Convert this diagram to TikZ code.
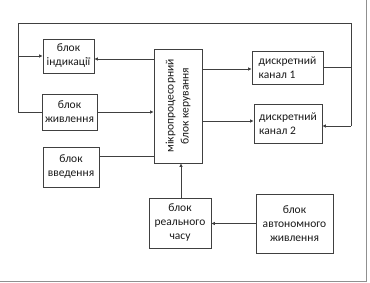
\documentclass[tikz,border=0pt]{standalone}
\usepackage{fontspec}
\setmainfont{Carlito}
\usetikzlibrary{arrows.meta,calc}
\definecolor{ln}{HTML}{404040}
\definecolor{fr}{HTML}{909090}
\tikzset{
  txt/.style={inner sep=1pt,align=center,font=\fontsize{11.5}{14}\selectfont,text=black!90},
  blk/.style={txt,draw=ln,line width=0.8pt},
  conn/.style={draw=ln,line width=0.8pt},
  arr/.style={conn,-{Latex[length=3.5pt,width=3.5pt]}}
}
\begin{document}
\begin{tikzpicture}[x=1pt,y=-1pt]
\useasboundingbox (0,0) rectangle (370,283);
\draw[fr,line width=0.8pt] (366,0) -- (366,281.5) -- (0,281.5);
\node[blk,minimum width=51pt,minimum height=34pt] (ind) at (68.5,56) {блок\\індикації};
\node[blk,minimum width=55pt,minimum height=36pt] (ziv) at (69.5,112) {блок\\живлення};
\node[blk,minimum width=48pt,minimum height=114pt] (mcu) at (178,106) {};
\node[txt,rotate=90,font=\fontsize{11.5}{15}\selectfont] (mcut) at (mcu.center) {мікропроцесорний\\блок керування};
\node[blk,minimum width=71pt,minimum height=33pt,align=left] (ch1) at (287.5,67.5) {дискретний\\канал 1};
\node[blk,minimum width=68pt,minimum height=39pt,align=left] (ch2) at (288,123.5) {дискретний\\канал 2};
\node[blk,minimum width=56pt,minimum height=40pt] (vv) at (71,167) {блок\\введення};
\node[blk,minimum width=62pt,minimum height=50pt] (rt) at (180,223) {блок\\реального\\часу};
\node[blk,minimum width=77pt,minimum height=59pt] (avt) at (294.5,223.5) {блок\\автономного\\живлення};
\coordinate (lt) at (18,23);
\coordinate (rtop) at (351,23);
\coordinate (c2) at (351,126);
\coordinate (y59) at (0,59);
\coordinate (y69) at (0,69);
\coordinate (y121) at (0,121);
\coordinate (y156) at (0,156);
% loop
\draw[conn] (ziv.west) -| (lt) -- (rtop) -- (c2);
\draw[arr] (c2) -- (ch2.east |- c2);
\draw[arr] (lt |- ind.west) -- (ind.west);
\draw[conn] (ch1.east) -- (ch1.east -| rtop);
% mcu links
\draw[arr] (mcu.west |- y59) -- (ind.east |- y59);
\draw[arr] (ziv.east) -- (mcu.west |- ziv.east);
\draw[arr] (mcu.east |- y69) -- (ch1.west |- y69);
\draw[arr] (mcu.east |- y121) -- (ch2.west |- y121);
\draw[conn] (vv.east |- y156) -- (mcu.west |- y156);
\draw[arr] (rt.north -| 181,0) -- (mcu.south -| 181,0);
\draw[arr] (avt.west) -- (rt.east |- avt.west);
\end{tikzpicture}
\end{document}
